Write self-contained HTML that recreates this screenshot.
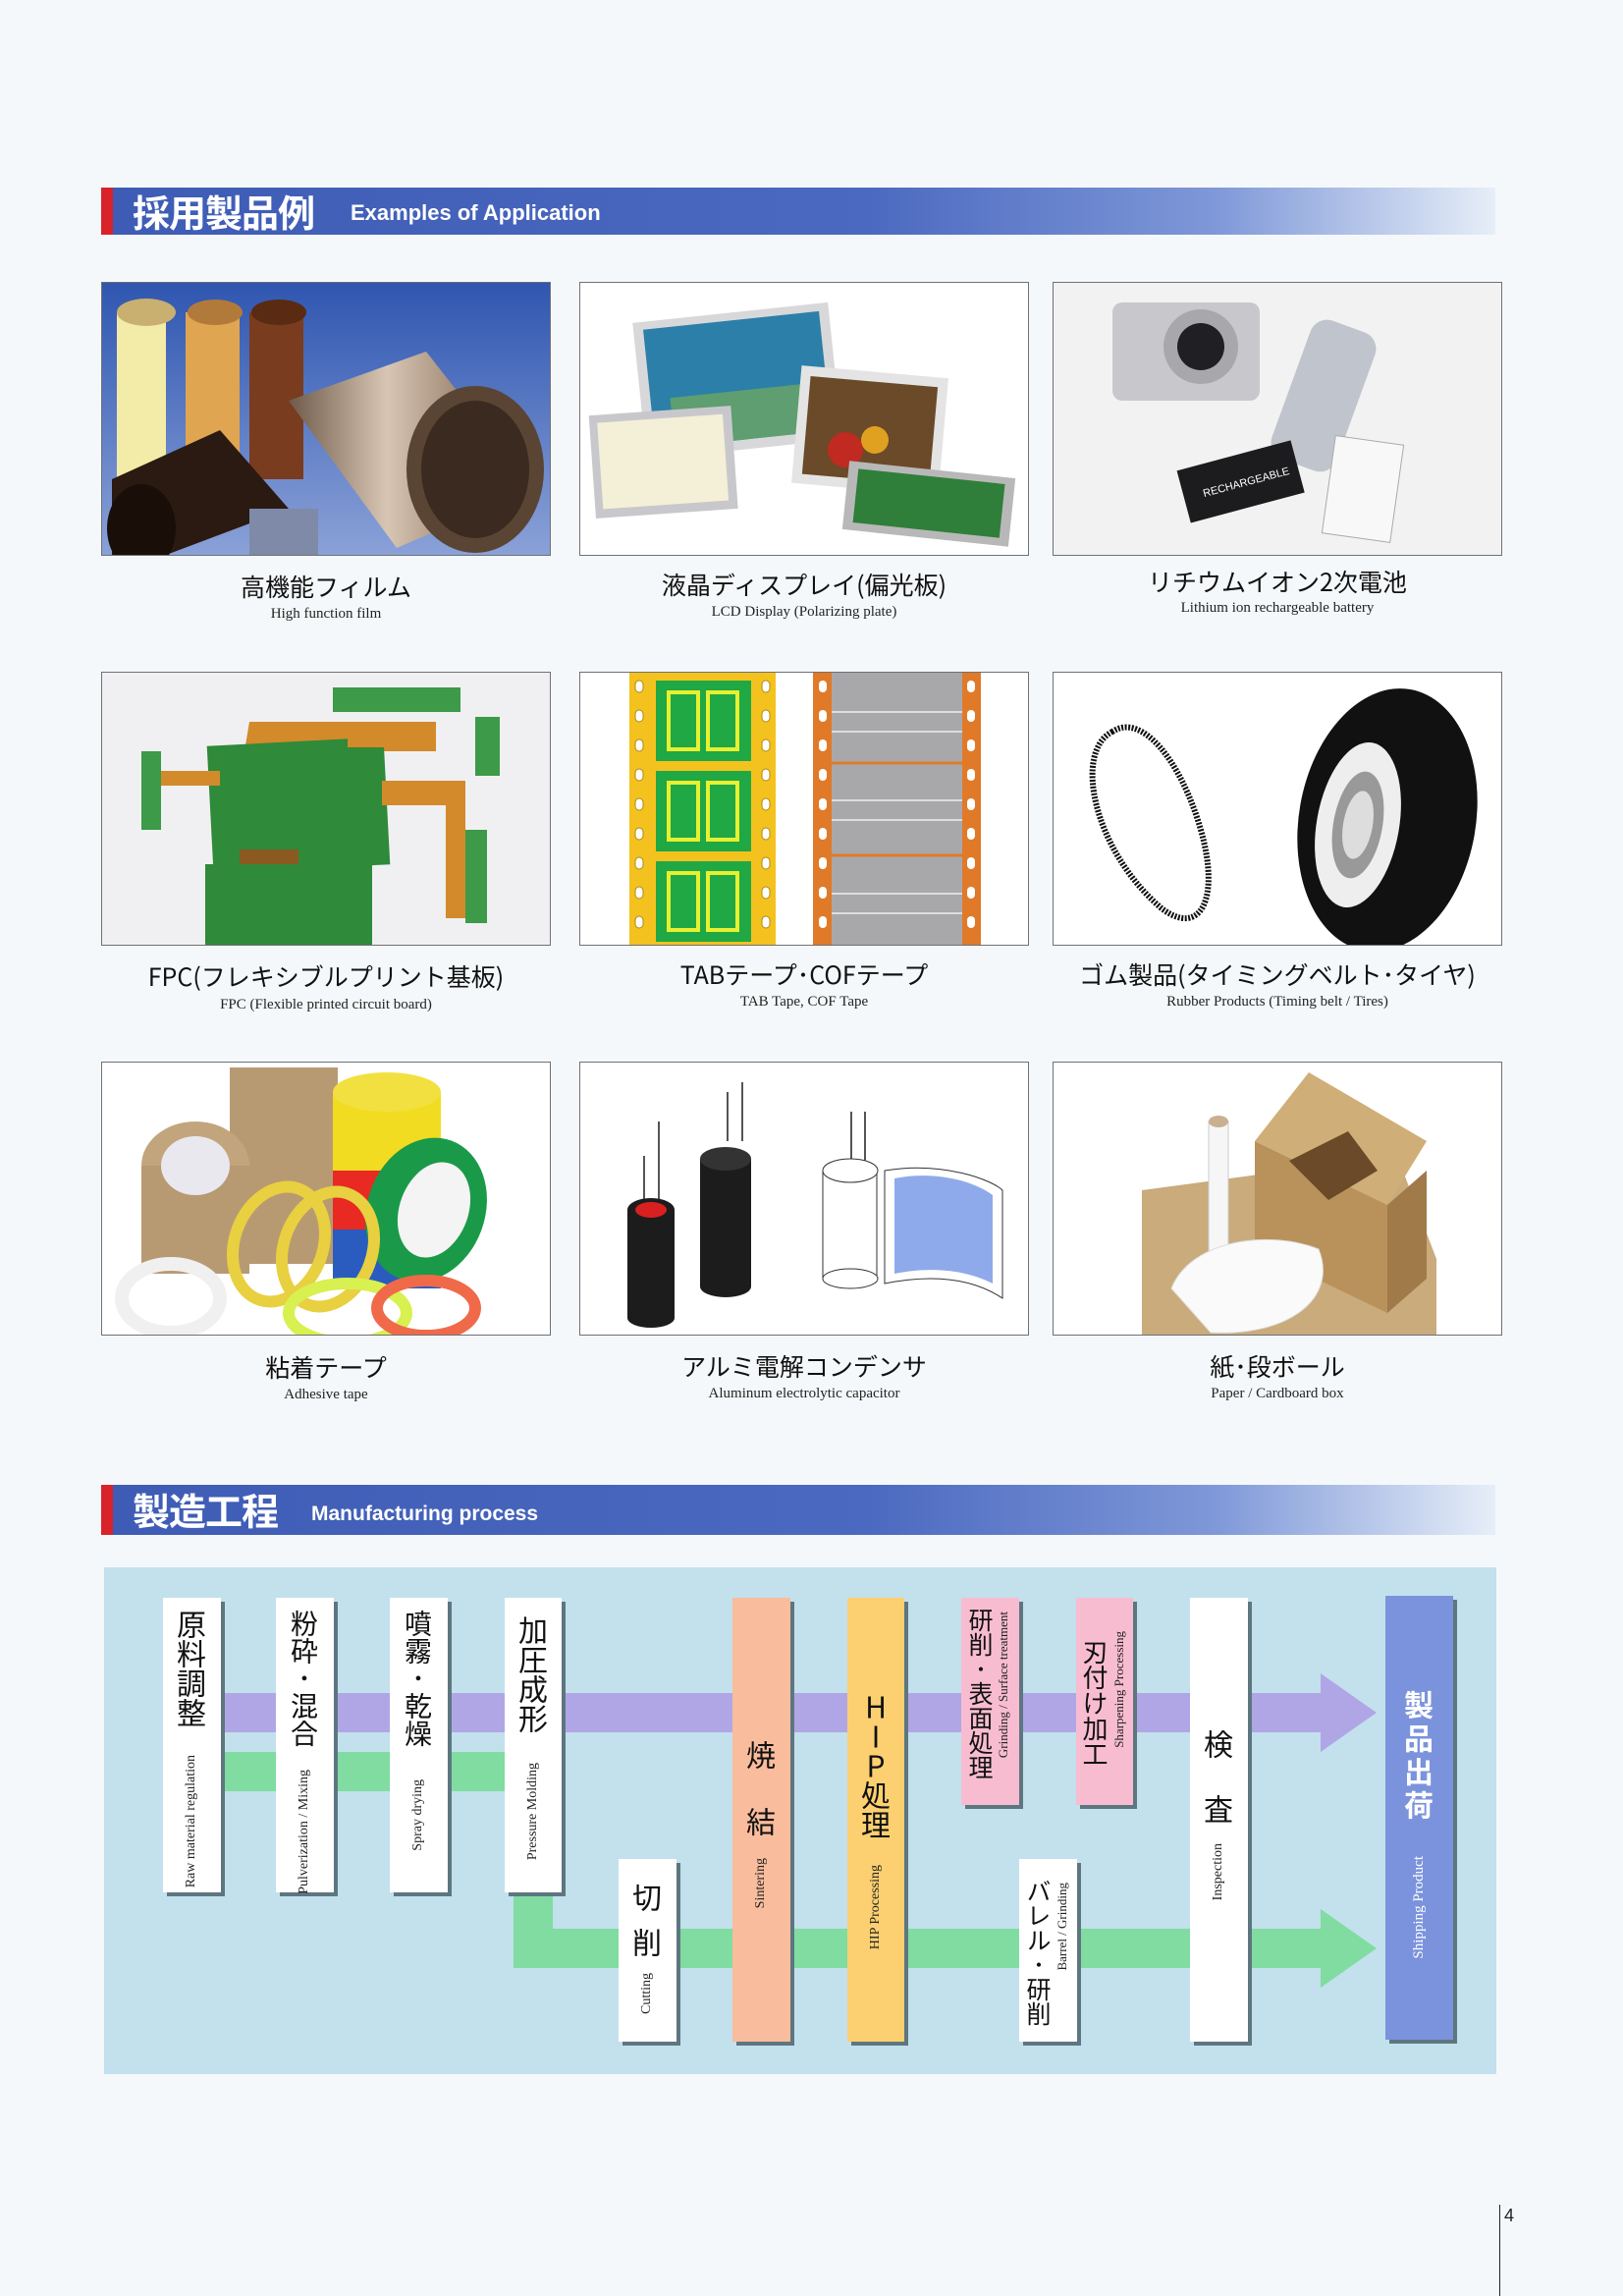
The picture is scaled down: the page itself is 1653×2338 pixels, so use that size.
<!DOCTYPE html>
<html><head><meta charset="utf-8">
<style>
*{margin:0;padding:0;box-sizing:border-box}
body{width:1653px;height:2338px;background:#f5f8fa;position:relative;overflow:hidden;font-family:"Liberation Sans","Noto Sans CJK JP",sans-serif}
.hdr{position:absolute;left:103px;width:1420px;background:linear-gradient(90deg,#3e5cb5 0%,#4b69c0 55%,#7f98d8 80%,#e6eef8 100%)}
.hdr .red{position:absolute;left:0;top:0;bottom:0;width:12px;background:#d8232a}
.hdr .jp{position:absolute;left:32px;color:#fff;font-weight:bold;font-family:"Noto Sans CJK JP",sans-serif;letter-spacing:-1px}
.hdr .en{position:absolute;color:#fff;font-weight:bold;font-size:22px}
.ph{position:absolute;width:458px;height:279px;border:1px solid #6f7175;overflow:hidden;background:#fff}
.ph svg{display:block}
.cj{position:absolute;width:458px;text-align:center;font-size:25px;color:#111;font-family:"Noto Sans CJK JP",sans-serif}
.ce{position:absolute;width:458px;text-align:center;font-size:15px;color:#222;font-family:"Liberation Serif",serif}
.diag{position:absolute;left:106px;top:1596px;width:1418px;height:516px;background:#c3e0ed}
.bx{position:absolute;box-shadow:4px 4px 0 #5d7680}
.vj{position:absolute;writing-mode:vertical-rl;font-family:"Noto Sans CJK JP",sans-serif;font-size:31px;line-height:1;color:#111;text-orientation:upright;white-space:nowrap}
.ve{position:absolute;writing-mode:vertical-rl;transform:rotate(180deg);font-family:"Liberation Serif",serif;font-size:14px;line-height:1;color:#222;white-space:nowrap}
</style></head><body>

<div class="hdr" style="top:191px;height:48px">
 <div class="red"></div>
 <div class="jp" style="top:1px;font-size:38px;line-height:46px">採用製品例</div>
 <div class="en" style="left:254px;top:13px">Examples of Application</div>
</div>

<div class="ph" style="left:103px;top:287px">
<svg width="458" height="279" viewBox="0 0 458 279">
<defs><linearGradient id="b1" x1="0" y1="0" x2="0" y2="1"><stop offset="0" stop-color="#2f56b0"/><stop offset="1" stop-color="#8ba2d8"/></linearGradient>
<linearGradient id="met" x1="0" x2="1"><stop offset="0" stop-color="#6f5a4a"/><stop offset=".4" stop-color="#d8c6b4"/><stop offset=".8" stop-color="#8c7260"/><stop offset="1" stop-color="#5a463a"/></linearGradient></defs>
<rect width="458" height="279" fill="url(#b1)"/>
<rect x="15" y="30" width="50" height="190" fill="#f3eca8"/><ellipse cx="45" cy="30" rx="30" ry="14" fill="#c9b070"/>
<rect x="85" y="30" width="55" height="190" fill="#e0a550"/><ellipse cx="115" cy="30" rx="28" ry="13" fill="#b27a3a"/>
<rect x="150" y="30" width="55" height="170" fill="#7a3c1e"/><ellipse cx="180" cy="30" rx="28" ry="13" fill="#5a2a12"/>
<path d="M190 120 L330 70 L440 210 L300 270 Z" fill="url(#met)"/>
<ellipse cx="380" cy="190" rx="70" ry="85" fill="#5a4434"/>
<ellipse cx="380" cy="190" rx="55" ry="70" fill="#3a2a20"/>
<path d="M10 200 L120 150 L190 230 L60 279 L10 279 Z" fill="#2a1a12"/>
<ellipse cx="40" cy="250" rx="35" ry="45" fill="#1a0e08"/>
<rect x="150" y="230" width="70" height="49" fill="#7e8aa8"/>
</svg></div>
<div class="ph" style="left:590px;top:287px">
<svg width="458" height="279" viewBox="0 0 458 279">
<rect width="458" height="279" fill="#fff"/>
<rect x="60" y="30" width="200" height="140" fill="#d8d8da" transform="rotate(-6 160 100)"/>
<rect x="70" y="38" width="180" height="122" fill="#2c7fa8" transform="rotate(-6 160 100)"/>
<rect x="90" y="110" width="140" height="50" fill="#5e9e70" transform="rotate(-6 160 100)"/>
<rect x="220" y="90" width="150" height="120" fill="#e4e4e4" transform="rotate(5 290 150)"/>
<rect x="230" y="100" width="130" height="100" fill="#6a4a28" transform="rotate(5 290 150)"/>
<circle cx="270" cy="170" r="18" fill="#c02a20"/><circle cx="300" cy="160" r="14" fill="#e0a020"/>
<rect x="12" y="130" width="145" height="105" fill="#c8c8cc" transform="rotate(-4 85 180)"/>
<rect x="20" y="138" width="128" height="88" fill="#f4f0d8" transform="rotate(-4 85 180)"/>
<rect x="270" y="190" width="170" height="70" fill="#b8b8b8" transform="rotate(6 355 225)"/>
<rect x="280" y="197" width="150" height="55" fill="#2f7f3a" transform="rotate(6 355 225)"/>
</svg></div>
<div class="ph" style="left:1072px;top:287px">
<svg width="458" height="279" viewBox="0 0 458 279">
<rect width="458" height="279" fill="#f2f2f2"/>
<rect x="60" y="20" width="150" height="100" rx="10" fill="#c8c8cc"/>
<circle cx="150" cy="65" r="38" fill="#a8a8ac"/><circle cx="150" cy="65" r="24" fill="#202024"/>
<rect x="240" y="40" width="70" height="150" rx="18" fill="#c0c4cc" transform="rotate(20 275 115)"/>
<rect x="130" y="175" width="120" height="55" fill="#1c1c1e" transform="rotate(-15 190 200)"/>
<text x="150" y="208" font-size="11" fill="#fff" font-family="Liberation Sans" transform="rotate(-15 190 200)">RECHARGEABLE</text>
<rect x="280" y="160" width="70" height="100" fill="#f8f8f8" stroke="#aaa" transform="rotate(8 315 210)"/>
</svg></div>
<div class="cj" style="left:103px;top:579px">高機能フィルム</div>
<div class="ce" style="left:103px;top:617px">High function film</div>
<div class="cj" style="left:590px;top:577px">液晶ディスプレイ(偏光板)</div>
<div class="ce" style="left:590px;top:615px">LCD Display (Polarizing plate)</div>
<div class="cj" style="left:1072px;top:574px">リチウムイオン2次電池</div>
<div class="ce" style="left:1072px;top:611px">Lithium ion rechargeable battery</div>

<div class="ph" style="left:103px;top:684px">
<svg width="458" height="279" viewBox="0 0 458 279">
<rect width="458" height="279" fill="#f0f0f2"/>
<rect x="235" y="15" width="130" height="25" fill="#3c9a48"/>
<path d="M150 50 L340 50 L340 80 L180 80 L180 110 L140 110 Z" fill="#d28a2a"/>
<rect x="110" y="70" width="180" height="130" fill="#2f8a3a" transform="rotate(-3 200 135)"/>
<rect x="40" y="80" width="20" height="80" fill="#3c9a48"/>
<rect x="60" y="100" width="60" height="15" fill="#d28a2a"/>
<path d="M285 110 L370 110 L370 250 L350 250 L350 135 L285 135 Z" fill="#d28a2a"/>
<rect x="370" y="160" width="22" height="95" fill="#3c9a48"/>
<rect x="250" y="60" width="90" height="16" fill="#d28a2a"/>
<rect x="380" y="45" width="25" height="60" fill="#3c9a48"/>
<rect x="140" y="180" width="60" height="40" fill="#8a5a20"/>
<rect x="105" y="195" width="170" height="84" fill="#2f8a3a"/>
</svg></div>
<div class="ph" style="left:590px;top:684px">
<svg width="458" height="279" viewBox="0 0 458 279">
<rect width="458" height="279" fill="#fff"/>
<rect x="50" y="0" width="149" height="279" fill="#f4c21e"/>
<g fill="#fff" stroke="#b08a10" stroke-width="1">
<rect x="56" y="8" width="8" height="12" rx="4"/><rect x="56" y="38" width="8" height="12" rx="4"/><rect x="56" y="68" width="8" height="12" rx="4"/><rect x="56" y="98" width="8" height="12" rx="4"/><rect x="56" y="128" width="8" height="12" rx="4"/><rect x="56" y="158" width="8" height="12" rx="4"/><rect x="56" y="188" width="8" height="12" rx="4"/><rect x="56" y="218" width="8" height="12" rx="4"/><rect x="56" y="248" width="8" height="12" rx="4"/>
<rect x="185" y="8" width="8" height="12" rx="4"/><rect x="185" y="38" width="8" height="12" rx="4"/><rect x="185" y="68" width="8" height="12" rx="4"/><rect x="185" y="98" width="8" height="12" rx="4"/><rect x="185" y="128" width="8" height="12" rx="4"/><rect x="185" y="158" width="8" height="12" rx="4"/><rect x="185" y="188" width="8" height="12" rx="4"/><rect x="185" y="218" width="8" height="12" rx="4"/><rect x="185" y="248" width="8" height="12" rx="4"/>
</g>
<g fill="#1fa844"><rect x="77" y="8" width="97" height="82"/><rect x="77" y="100" width="97" height="82"/><rect x="77" y="192" width="97" height="82"/></g>
<g fill="none" stroke="#e8f030" stroke-width="4"><rect x="90" y="20" width="30" height="58"/><rect x="130" y="20" width="30" height="58"/><rect x="90" y="112" width="30" height="58"/><rect x="130" y="112" width="30" height="58"/><rect x="90" y="204" width="30" height="58"/><rect x="130" y="204" width="30" height="58"/></g>
<rect x="237" y="0" width="171" height="279" fill="#e07a28"/>
<rect x="256" y="0" width="133" height="279" fill="#a8a8aa"/>
<g stroke="#ddd" stroke-width="2"><line x1="256" y1="40" x2="389" y2="40"/><line x1="256" y1="60" x2="389" y2="60"/><line x1="256" y1="130" x2="389" y2="130"/><line x1="256" y1="150" x2="389" y2="150"/><line x1="256" y1="225" x2="389" y2="225"/><line x1="256" y1="245" x2="389" y2="245"/></g>
<line x1="256" y1="92" x2="389" y2="92" stroke="#e07a28" stroke-width="3"/><line x1="256" y1="186" x2="389" y2="186" stroke="#e07a28" stroke-width="3"/>
<g fill="#fff"><rect x="243" y="8" width="8" height="12" rx="4"/><rect x="243" y="38" width="8" height="12" rx="4"/><rect x="243" y="68" width="8" height="12" rx="4"/><rect x="243" y="98" width="8" height="12" rx="4"/><rect x="243" y="128" width="8" height="12" rx="4"/><rect x="243" y="158" width="8" height="12" rx="4"/><rect x="243" y="188" width="8" height="12" rx="4"/><rect x="243" y="218" width="8" height="12" rx="4"/><rect x="243" y="248" width="8" height="12" rx="4"/>
<rect x="394" y="8" width="8" height="12" rx="4"/><rect x="394" y="38" width="8" height="12" rx="4"/><rect x="394" y="68" width="8" height="12" rx="4"/><rect x="394" y="98" width="8" height="12" rx="4"/><rect x="394" y="128" width="8" height="12" rx="4"/><rect x="394" y="158" width="8" height="12" rx="4"/><rect x="394" y="188" width="8" height="12" rx="4"/><rect x="394" y="218" width="8" height="12" rx="4"/><rect x="394" y="248" width="8" height="12" rx="4"/></g>
</svg></div>
<div class="ph" style="left:1072px;top:684px">
<svg width="458" height="279" viewBox="0 0 458 279">
<rect width="458" height="279" fill="#fff"/>
<path d="M60 60 C20 80 40 180 110 240 C150 270 170 230 150 160 C130 90 90 40 60 60 Z" fill="none" stroke="#111" stroke-width="6" stroke-dasharray="2 1.5"/>
<ellipse cx="340" cy="150" rx="90" ry="135" fill="#111" transform="rotate(10 340 150)"/>
<ellipse cx="310" cy="155" rx="42" ry="85" fill="#eee" transform="rotate(10 310 155)"/>
<ellipse cx="310" cy="155" rx="25" ry="55" fill="#999" transform="rotate(10 310 155)"/>
<ellipse cx="310" cy="155" rx="15" ry="35" fill="#ddd" transform="rotate(10 310 155)"/>
</svg></div>
<div class="cj" style="left:103px;top:976px">FPC(フレキシブルプリント基板)</div>
<div class="ce" style="left:103px;top:1015px">FPC (Flexible printed circuit board)</div>
<div class="cj" style="left:590px;top:974px">TABテープ･COFテープ</div>
<div class="ce" style="left:590px;top:1012px">TAB Tape, COF Tape</div>
<div class="cj" style="left:1072px;top:974px">ゴム製品(タイミングベルト･タイヤ)</div>
<div class="ce" style="left:1072px;top:1012px">Rubber Products (Timing belt / Tires)</div>

<div class="ph" style="left:103px;top:1081px">
<svg width="458" height="279" viewBox="0 0 458 279">
<rect width="458" height="279" fill="#fff"/>
<rect x="130" y="5" width="110" height="200" fill="#b89a72"/>
<ellipse cx="95" cy="105" rx="55" ry="45" fill="#c2a57c"/><rect x="40" y="105" width="110" height="110" fill="#b89a72"/><ellipse cx="95" cy="105" rx="35" ry="30" fill="#e8e8ee"/>
<rect x="235" y="30" width="110" height="170" fill="#e82a22"/><rect x="235" y="30" width="110" height="80" fill="#f2dc22"/><rect x="235" y="170" width="110" height="60" fill="#2a5cc0"/><ellipse cx="290" cy="30" rx="55" ry="20" fill="#f2e040"/>
<ellipse cx="330" cy="150" rx="60" ry="75" fill="#1a9a48" transform="rotate(20 330 150)"/><ellipse cx="338" cy="150" rx="35" ry="50" fill="#f4f4f4" transform="rotate(20 338 150)"/>
<ellipse cx="180" cy="185" rx="45" ry="60" fill="none" stroke="#e8d040" stroke-width="12" transform="rotate(20 180 185)"/>
<ellipse cx="230" cy="190" rx="45" ry="60" fill="none" stroke="#e8d040" stroke-width="12" transform="rotate(20 230 190)"/>
<ellipse cx="70" cy="240" rx="50" ry="35" fill="none" stroke="#f0f0f0" stroke-width="14"/>
<ellipse cx="250" cy="255" rx="60" ry="30" fill="none" stroke="#d8f050" stroke-width="12"/>
<ellipse cx="330" cy="250" rx="50" ry="28" fill="none" stroke="#f06a4a" stroke-width="12"/>
</svg></div>
<div class="ph" style="left:590px;top:1081px">
<svg width="458" height="279" viewBox="0 0 458 279">
<rect width="458" height="279" fill="#fff"/>
<g stroke="#555" stroke-width="2"><line x1="65" y1="150" x2="65" y2="95"/><line x1="80" y1="150" x2="80" y2="60"/><line x1="150" y1="80" x2="150" y2="30"/><line x1="165" y1="80" x2="165" y2="20"/><line x1="276" y1="110" x2="276" y2="50"/><line x1="290" y1="110" x2="290" y2="50"/></g>
<rect x="48" y="150" width="48" height="110" fill="#1c1c1c"/><ellipse cx="72" cy="150" rx="24" ry="12" fill="#1c1c1c"/><ellipse cx="72" cy="150" rx="16" ry="8" fill="#d82020"/><ellipse cx="72" cy="260" rx="24" ry="10" fill="#1c1c1c"/>
<rect x="122" y="98" width="52" height="130" fill="#1c1c1c"/><ellipse cx="148" cy="98" rx="26" ry="12" fill="#333"/><ellipse cx="148" cy="228" rx="26" ry="11" fill="#1c1c1c"/>
<path d="M310 110 C370 100 420 120 430 130 L430 240 C400 220 360 215 310 225 Z" fill="#fff" stroke="#333"/>
<path d="M320 118 C360 110 400 120 420 135 L420 225 C390 210 355 208 320 215 Z" fill="#8eaaea"/>
<rect x="247" y="110" width="55" height="110" fill="#fff" stroke="#333"/><ellipse cx="275" cy="110" rx="28" ry="12" fill="#fff" stroke="#333"/><ellipse cx="275" cy="220" rx="28" ry="10" fill="#fff" stroke="#333"/>
</svg></div>
<div class="ph" style="left:1072px;top:1081px">
<svg width="458" height="279" viewBox="0 0 458 279">
<rect width="458" height="279" fill="#fff"/>
<path d="M90 130 L350 95 L390 200 L390 279 L90 279 Z" fill="#c9ab7c"/>
<path d="M205 80 L340 145 L340 255 L205 190 Z" fill="#b8925a"/>
<path d="M340 145 L380 110 L380 220 L340 255 Z" fill="#a07a48"/>
<path d="M205 80 L260 10 L380 80 L340 145 Z" fill="#cfae78"/>
<path d="M240 100 L300 70 L330 110 L280 140 Z" fill="#6a4a28"/>
<rect x="158" y="60" width="20" height="140" fill="#f6f6f6" stroke="#ccc"/><ellipse cx="168" cy="60" rx="10" ry="6" fill="#c8b090"/>
<path d="M120 230 C140 180 220 170 270 190 C290 240 240 279 160 275 Z" fill="#fafafa" stroke="#ddd"/>
</svg></div>
<div class="cj" style="left:103px;top:1374px">粘着テープ</div>
<div class="ce" style="left:103px;top:1412px">Adhesive tape</div>
<div class="cj" style="left:590px;top:1373px">アルミ電解コンデンサ</div>
<div class="ce" style="left:590px;top:1411px">Aluminum electrolytic capacitor</div>
<div class="cj" style="left:1072px;top:1373px">紙･段ボール</div>
<div class="ce" style="left:1072px;top:1411px">Paper / Cardboard box</div>

<div class="hdr" style="top:1512px;height:51px">
 <div class="red"></div>
 <div class="jp" style="top:2px;font-size:38px;line-height:46px">製造工程</div>
 <div class="en" style="left:214px;top:18px;font-size:21px">Manufacturing process</div>
</div>

<div class="diag"></div>
<svg style="position:absolute;left:0;top:0" width="1653" height="2338">
 <rect x="220" y="1724" width="1130" height="40" fill="#b0a6e6"/>
 <polygon points="1345,1704 1402,1744 1345,1784" fill="#b0a6e6"/>
 <rect x="220" y="1784" width="300" height="40" fill="#80dca0"/>
 <path d="M523 1920 L563 1920 L563 1964 L1350 1964 L1350 2004 L523 2004 Z" fill="#80dca0"/>
 <polygon points="1345,1944 1402,1984 1345,2024" fill="#80dca0"/>
</svg>

<div class="bx" style="left:166px;top:1627px;width:59px;height:300px;background:#fff">
 <div class="vj" style="left:14px;top:12px;font-size:30px">原料調整</div>
 <div class="ve" style="left:22px;top:160px">Raw material regulation</div>
</div>
<div class="bx" style="left:281px;top:1627px;width:59px;height:300px;background:#fff">
 <div class="vj" style="left:15px;top:12px;font-size:28px">粉砕･混合</div>
 <div class="ve" style="left:22px;top:175px">Pulverization / Mixing</div>
</div>
<div class="bx" style="left:397px;top:1627px;width:59px;height:300px;background:#fff">
 <div class="vj" style="left:15px;top:12px;font-size:28px">噴霧･乾燥</div>
 <div class="ve" style="left:22px;top:185px">Spray drying</div>
</div>
<div class="bx" style="left:514px;top:1627px;width:58px;height:300px;background:#fff">
 <div class="vj" style="left:14px;top:18px;font-size:30px">加圧成形</div>
 <div class="ve" style="left:22px;top:168px">Pressure Molding</div>
</div>
<div class="bx" style="left:630px;top:1893px;width:59px;height:186px;background:#fff">
 <div class="vj" style="left:14px;top:24px;font-size:30px;letter-spacing:16px">切削</div>
 <div class="ve" style="left:22px;top:116px">Cutting</div>
</div>
<div class="bx" style="left:746px;top:1627px;width:59px;height:452px;background:#f9bc9c">
 <div class="vj" style="left:14px;top:145px;font-size:30px;letter-spacing:38px">焼結</div>
 <div class="ve" style="left:22px;top:265px">Sintering</div>
</div>
<div class="bx" style="left:863px;top:1627px;width:58px;height:452px;background:#fcd070">
 <div class="vj" style="left:14px;top:96px;font-size:30px">HIP処理</div>
 <div class="ve" style="left:22px;top:272px">HIP Processing</div>
</div>
<div class="bx" style="left:979px;top:1627px;width:59px;height:211px;background:#f8bcd0">
 <div class="vj" style="left:7px;top:10px;font-size:25px">研削･表面処理</div>
 <div class="ve" style="left:36px;top:14px;font-size:13px">Grinding / Surface treatment</div>
</div>
<div class="bx" style="left:1096px;top:1627px;width:58px;height:211px;background:#f8bcd0">
 <div class="vj" style="left:6px;top:42px;font-size:26px">刃付け加工</div>
 <div class="ve" style="left:37px;top:34px;font-size:13px">Sharpening Processing</div>
</div>
<div class="bx" style="left:1038px;top:1893px;width:59px;height:186px;background:#fff">
 <div class="vj" style="left:7px;top:20px;font-size:25px">バレル･研削</div>
 <div class="ve" style="left:37px;top:24px;font-size:13px">Barrel / Grinding</div>
</div>
<div class="bx" style="left:1212px;top:1627px;width:59px;height:452px;background:#fff">
 <div class="vj" style="left:14px;top:134px;font-size:30px;letter-spacing:36px">検査</div>
 <div class="ve" style="left:22px;top:250px">Inspection</div>
</div>
<div class="bx" style="left:1411px;top:1625px;width:69px;height:452px;background:#7b93dc">
 <div class="vj" style="left:19px;top:96px;color:#fff;font-weight:bold;font-size:30px;letter-spacing:4px">製品出荷</div>
 <div class="ve" style="left:27px;top:265px;color:#fff;font-size:15px">Shipping Product</div>
</div>

<div style="position:absolute;left:1527px;top:2245px;width:1px;height:93px;background:#222"></div>
<div style="position:absolute;left:1532px;top:2246px;font-size:18px;color:#222">4</div>
</body></html>
